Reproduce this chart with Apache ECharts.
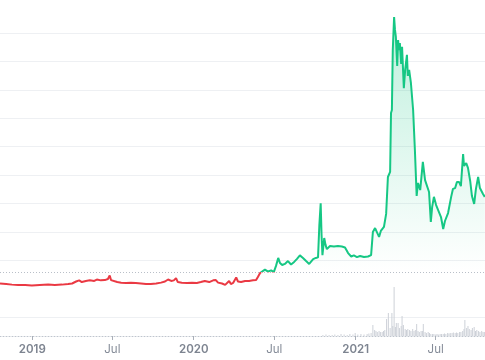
<!DOCTYPE html>
<html><head><meta charset="utf-8">
<script src="https://cdn.jsdelivr.net/npm/echarts@6/dist/echarts.min.js"></script>
<style>html,body{margin:0;padding:0;background:#fff}#c{width:485px;height:360px}</style>
</head><body><div id="c"></div>
<script>
const START_DATE = '2018-10-20T00:00:00Z';
const END_DATE = '2021-10-20T12:00:00Z';
const BASE_PRICE = 1.585;

const priceDays = [
  0,14,27,41,57,72,90,109,124,140,
  154,163,172,179,185,194,203,213,219,228,
  237,244,248,251,255,265,274,285,296,307,
  319,330,341,353,364,373,380,387,393,398,
  402,411,423,434,445,454,463,473,482,488,
  493,502,509,513,518,522,527,534,538,545,
  554,563,572,579,583,588,592,599,606,613,
  619,624,629,633,638,644,651,658,665,671,
  678,685,692,699,703,708,714,719,722,725,
  727,729,733,736,739,746,755,764,773,780,
  787,794,800,807,814,823,832,839,843,848,
  852,857,861,868,873,877,882,884,886,888,
  891,893,895,898,900,902,904,907,909,913,
  916,920,922,925,929,934,938,942,945,950,
  956,961,965,970,974,977,981,986,990,997,
  1002,1006,1013,1020,1024,1029,1033,1038,1042,1047,
  1049,1054,1058,1063,1067,1072,1076,1081,1085,1092,
  1096
];
const priceValues = [
  1.18,1.16,1.14,1.13,1.13,1.11,1.13,1.14,1.13,1.14,
  1.16,1.18,1.25,1.29,1.23,1.27,1.29,1.27,1.32,1.29,
  1.30,1.34,1.46,1.30,1.23,1.23,1.21,1.20,1.21,1.20,
  1.18,1.16,1.16,1.18,1.21,1.25,1.32,1.27,1.29,1.37,
  1.23,1.21,1.20,1.21,1.20,1.23,1.27,1.23,1.29,1.30,
  1.21,1.18,1.13,1.20,1.27,1.16,1.20,1.39,1.25,1.23,
  1.27,1.27,1.29,1.30,1.41,1.55,1.60,1.67,1.60,1.64,
  1.58,1.80,2.08,1.90,1.83,1.87,1.97,1.85,1.94,2.04,
  2.17,2.08,1.97,1.87,1.83,2.04,2.08,2.10,3.24,4.00,
  2.89,2.18,2.78,2.54,2.39,2.50,2.48,2.50,2.48,2.45,
  2.25,2.13,2.17,2.11,2.15,2.11,2.13,2.18,2.99,3.13,
  3.17,2.82,3.03,3.17,3.63,4.93,5.11,7.18,7.29,9.40,
  10.56,10.11,9.86,8.84,9.75,9.40,9.65,8.91,9.51,8.06,
  8.70,9.23,8.49,8.70,8.24,7.29,5.88,4.26,4.72,4.47,
  5.46,4.82,4.75,4.40,3.35,3.87,4.23,3.94,3.87,3.52,
  3.10,3.38,3.66,4.23,4.51,4.54,4.75,4.75,4.61,5.74,
  5.32,5.42,5.25,4.79,4.26,3.98,4.51,4.93,4.54,4.33,
  4.23
];

const volumeDays = [
  730,737,744,751,757,764,771,778,785,791,
  798,803,809,816,823,830,834,839,843,847,
  850,853,857,860,864,867,870,874,878,882,
  886,888,891,894,896,900,903,907,909,912,
  916,919,922,926,929,933,936,939,942,945,
  948,952,955,957,961,964,968,971,974,978,
  981,985,988,991,995,998,1002,1005,1008,1012,
  1015,1018,1022,1025,1029,1032,1035,1039,1042,1046,
  1049,1051,1055,1058,1061,1065,1068,1072,1075,1078,
  1082,1085,1089,1092,1095
];
const volumeValues = [
  1,1.5,1,1,1.5,1,2,1.5,1,2,
  1.5,3,1.5,2,1.5,2,2.5,3,11,6,
  5,4,5,4,4,5,6,17,23,8,
  23,10,49,9,13,13,8,10,20,11,
  7,6,7,6,5,7,5,6,12,5,
  4,5,5,12,4,3,4,3,2,2,
  2,1.5,2,1.5,2,2,2,2.5,2,3,
  2.5,3,3,3.5,3,3.5,3,4,4,5,
  7,16,8,10,7,6,8,9,5,6,
  5,4,5,4,4
];

const tickDates = ['2019-01-01','2019-07-01','2020-01-01','2020-07-01','2021-01-01','2021-07-01'];
const tickLabels = ['2019','Jul','2020','Jul','2021','Jul'];
const tickIsYear = [true,false,true,false,true,false];

const DAY = 86400000;
const startMs = Date.parse(START_DATE);
const endMs = Date.parse(END_DATE);
const tickMs = tickDates.map(d => Date.parse(d + 'T00:00:00Z'));

const priceData = priceDays.map((d, i) => [startMs + d * DAY, priceValues[i]]);
const volumeData = volumeDays.map((d, i) => [startMs + d * DAY, volumeValues[i]]);

const GREEN = '#16c784', RED = '#ea3943';
const GRID = '#eef0f3';
const splitColors = ['transparent', GRID, 'transparent', GRID, GRID, GRID, GRID, GRID, GRID, GRID, GRID, GRID, 'transparent'];

const chart = echarts.init(document.getElementById('c'), null, {renderer: 'canvas'});
chart.setOption({
  animation: false,
  backgroundColor: '#ffffff',
  grid: [
    {left: 0, right: 0, top: 4.6, bottom: 14.6, outerBoundsMode: 'none', containLabel: false},
    {left: 0, right: 0, top: 286, bottom: 24, outerBoundsMode: 'none', containLabel: false}
  ],
  xAxis: [
    {type: 'value', gridIndex: 0, min: startMs, max: endMs, show: false, splitLine: {show: false}},
    {
      type: 'value', gridIndex: 1, min: startMs, max: endMs,
      axisLine: {show: true, onZero: false, lineStyle: {color: '#bfc5ce', type: [1, 2], width: 1}},
      axisTick: {show: true, customValues: tickMs, length: 4, lineStyle: {color: '#a9afb8'}},
      axisLabel: {
        show: true, customValues: tickMs, margin: 8,
        formatter: function (v) {
          let i = -1;
          tickMs.forEach((t, k) => { if (Math.abs(t - v) < DAY) i = k; });
          if (i < 0) return '';
          return tickIsYear[i] ? '{y|' + tickLabels[i] + '}' : '{m|' + tickLabels[i] + '}';
        },
        rich: {
          y: {fontFamily: 'Inter', fontSize: 11.5, fontWeight: 600, color: '#7d8490'},
          m: {fontFamily: 'Inter', fontSize: 11.5, fontWeight: 400, color: '#858c98'}
        }
      },
      splitLine: {show: false}
    }
  ],
  yAxis: [
    {
      type: 'value', gridIndex: 0, min: -1, max: 11, interval: 1,
      axisLine: {show: false}, axisTick: {show: false}, axisLabel: {show: false},
      splitLine: {show: true, lineStyle: {color: splitColors, width: 1}}
    },
    {
      type: 'value', gridIndex: 1, min: 0, max: 50,
      show: false, splitLine: {show: false}
    }
  ],
  visualMap: {
    show: false, type: 'piecewise', seriesIndex: 0, dimension: 1,
    pieces: [{gte: -1, lt: BASE_PRICE, color: RED}, {gte: BASE_PRICE, lte: 11, color: GREEN}]
  },
  series: [
    {
      type: 'line', xAxisIndex: 0, yAxisIndex: 0, data: priceData,
      showSymbol: false, symbol: 'none', smooth: false,
      lineStyle: {width: 2},
      areaStyle: {
        origin: BASE_PRICE, opacity: 1,
        color: new echarts.graphic.LinearGradient(0, 0, 0, 1, [
          {offset: 0, color: 'rgba(22,199,132,0.28)'},
          {offset: 0.6, color: 'rgba(22,199,132,0.10)'},
          {offset: 0.95, color: 'rgba(22,199,132,0.0)'},
          {offset: 1, color: 'rgba(22,199,132,0.0)'}
        ])
      },
      markLine: {
        silent: true, symbol: 'none', label: {show: false},
        lineStyle: {color: '#b9bfc8', type: [1, 2], width: 1},
        data: [{yAxis: BASE_PRICE}]
      },
      z: 3
    },
    {
      type: 'bar', xAxisIndex: 1, yAxisIndex: 1, data: volumeData,
      barWidth: 1, itemStyle: {color: '#cdd1d8'}, z: 1
    }
  ]
});
</script>
</body></html>
